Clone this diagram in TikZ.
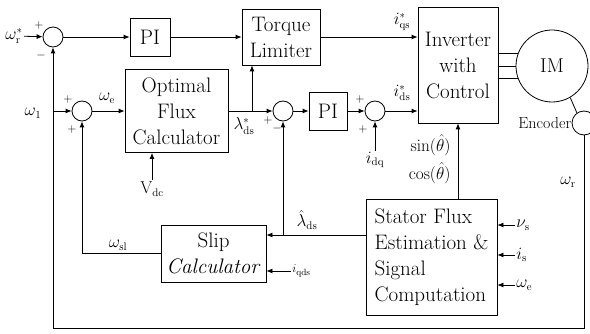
\documentclass[tikz,border=0pt]{standalone}
\usetikzlibrary{arrows.meta}
\begin{document}
\begin{tikzpicture}[x=1pt, y=-1pt, line width=0.8pt,
  >={Latex[length=6pt,width=5pt]},
  blk/.style={draw, align=center, inner sep=1.5pt, font=\fontsize{21}{26}\selectfont},
  sumj/.style={draw, circle, minimum size=20pt, inner sep=0pt},
  lbl/.style={inner sep=1pt, font=\fontsize{16}{18}\selectfont},
  sgn/.style={inner sep=0pt, font=\fontsize{12}{12}\selectfont}]
\useasboundingbox (0,0) rectangle (590,334);
% ---------- speed loop and torque path ----------
\node[lbl] (wref) at (14,36) {$\omega_\mathrm{r}^*$};
\node[sumj] (s1) at (53,37) {};
\node[sgn] (s1p) at (39,26) {$+$};
\node[sgn] (s1m) at (41,56) {$-$};
\node[blk, minimum width=40pt, minimum height=38pt] (pi1) at (150,37) {PI};
\node[blk, minimum width=78pt, minimum height=56pt] (tl) at (281,37) {Torque\\Limiter};
\node[blk, minimum width=80pt, minimum height=116pt] (inv) at (458,65) {Inverter\\with\\Control};
\node[draw, circle, minimum size=72pt, font=\fontsize{20}{22}\selectfont] (im) at (552,66) {IM};
\node[draw, circle, minimum size=24pt] (enc) at (584,123) {};
\node[lbl, anchor=east, inner sep=0pt] (enct) at (enc.west) {Encoder};
\draw[->] (wref) -- (s1);
\draw[->] (s1) -- (pi1);
\draw[->] (pi1) -- (tl);
\draw[->] (tl.east) -- (tl.east -| inv.west);
\node[lbl] (iqs) at (402,22) {$i_\mathrm{qs}^*$};
\draw (inv.east |- im.160) -- (im.160);
\draw (inv.east |- im.west) -- (im.west);
\draw (inv.east |- im.200) -- (im.200);
\draw (im.300) -- (enc.125);
% speed feedback round the bottom
\coordinate (fbc) at (53,328);
\draw[->] (enc.south) |- (fbc) -- (s1.south);
\node[lbl] (wr) at (568,182) {$\omega_\mathrm{r}$};
% ---------- flux path ----------
\node[sumj] (s2) at (82,111) {};
\node[sgn] (s2p) at (68,100) {$+$};
\node[sgn] (s2q) at (72,130) {$+$};
\node[lbl] (w1) at (33,113) {$\omega_1$};
\draw[->] (s1.south |- s2.west) -- (s2);
\node[blk, minimum width=103pt, minimum height=83pt] (ofc) at (176.5,111) {Optimal\\Flux\\Calculator};
\draw[->] (s2) -- (ofc);
\node[lbl] (we) at (107,98) {$\omega_\mathrm{e}$};
\node[lbl] (vdc) at (152,189) {$\mathrm{V_{dc}}$};
\draw[->] (vdc.north) -- (vdc.north |- ofc.south);
\node[sumj] (s3) at (283,111) {};
\node[sgn] (s3p) at (268,121) {$+$};
\node[sgn] (s3m) at (277,129) {$-$};
\draw[->] (ofc) -- (s3);
\coordinate (br) at (252,111);
\draw[->] (br) -- (br |- tl.south);
\node[lbl] (lds) at (244,126) {$\lambda_\mathrm{ds}^*$};
\node[blk, minimum width=38pt, minimum height=38pt] (pi2) at (328,111) {PI};
\draw[->] (s3) -- (pi2);
\node[sumj] (s4) at (375,111) {};
\node[sgn] (s4p) at (360,100) {$+$};
\node[sgn] (s4q) at (363,130) {$+$};
\draw[->] (pi2) -- (s4);
\node[lbl] (idq) at (375,160) {$i_\mathrm{dq}$};
\draw[->] (idq) -- (s4);
\draw[->] (s4) -- (s4 -| inv.west);
\node[lbl] (ids) at (402,93) {$i_\mathrm{ds}^*$};
% ---------- estimator and slip ----------
\node[blk, minimum width=131pt, minimum height=116pt, align=left] (sfe) at (431.5,257) {Stator Flux\\Estimation \&\\Signal\\Computation};
\draw[->] (sfe.north -| inv.south) -- (inv.south);
\node[lbl, anchor=east] (sin) at (452,145) {$\sin(\hat{\theta})$};
\node[lbl, anchor=east] (cos) at (452,173) {$\cos(\hat{\theta})$};
\foreach \yy/\txt/\nm in {225/{$\nu_\mathrm{s}$}/vs, 255/{$i_\mathrm{s}$}/is, 285/{$\omega_\mathrm{e}$}/wes} {
  \node[lbl, anchor=west] (\nm) at (515,\yy) {\txt};
  \draw[->] (\nm.west) -- (\nm.west -| sfe.east);
}
\node[blk, minimum width=105pt, minimum height=57pt] (slip) at (213.5,253.5) {Slip\\\textit{Calculator}};
\coordinate (lh) at (0,235);
\draw[->] (sfe.west |- lh) -- (slip.east |- lh);
\draw[->] (s3.south |- lh) -- (s3.south);
\node[lbl] (lhat) at (307,220) {$\hat{\lambda}_\mathrm{ds}$};
\node[lbl, anchor=west, font=\fontsize{13}{14}\selectfont] (iqds) at (291,271) {$i_\mathrm{qds}$};
\draw[->] (iqds.west) -- (iqds.west -| slip.east);
\draw[->] (slip.west) -| (s2.south);
\node[lbl] (wsl) at (118,245) {$\omega_\mathrm{sl}$};
\end{tikzpicture}
\end{document}
